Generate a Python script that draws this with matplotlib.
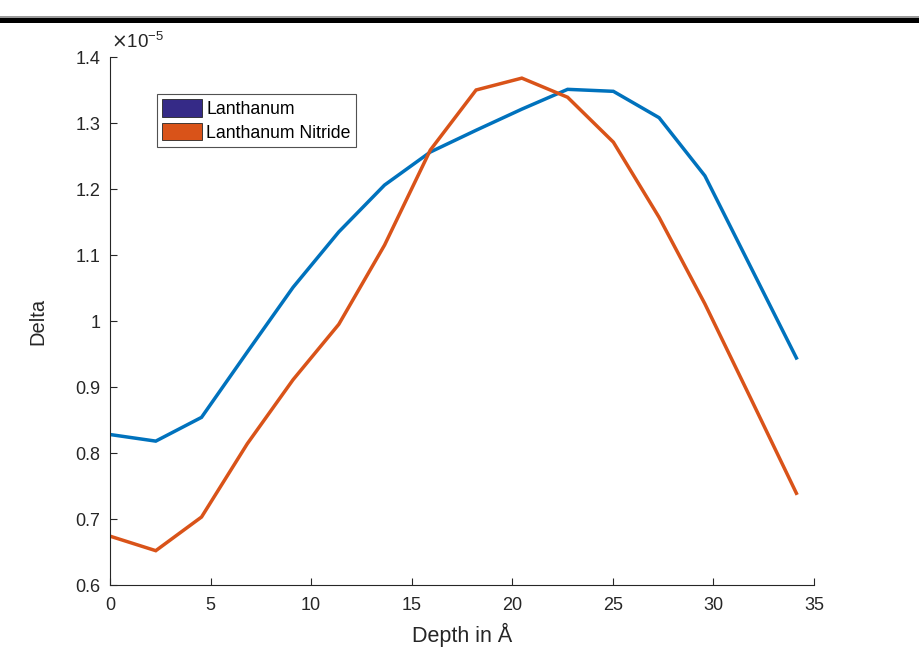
import matplotlib.pyplot as plt
from matplotlib.ticker import FuncFormatter
from matplotlib.patches import Patch, Rectangle
import numpy as np

# depth grid (Angstrom) and delta values in units of 1e-5
depth = [0, 2.275, 4.55, 6.825, 9.1, 11.375, 13.65, 15.925, 18.2, 20.475,
         22.75, 25.025, 27.3, 29.575, 31.85, 34.125]
delta_la = [0.828, 0.818, 0.854, 0.953, 1.051, 1.135, 1.206, 1.256, 1.289, 1.321,
            1.351, 1.348, 1.308, 1.220, 1.082, 0.944]
delta_lan = [0.674, 0.652, 0.703, 0.814, 0.911, 0.995, 1.115, 1.259, 1.350, 1.368,
             1.339, 1.271, 1.157, 1.026, 0.883, 0.739]
labels = ['Lanthanum', 'Lanthanum Nitride']

plt.rcParams['font.family'] = ['Liberation Sans', 'DejaVu Sans']
txt = '#262626'

fig = plt.figure(figsize=(9.19, 6.49), dpi=100)
ax = fig.add_axes([110/919, 1-585/649, 704/919, 528/649])

ax.plot(depth, delta_la, color='#0072BD', lw=2.5, solid_joinstyle='miter')
ax.plot(depth, delta_lan, color='#D95319', lw=2.5, solid_joinstyle='miter')

ax.set_xlim(0, 35)
ax.set_ylim(0.6, 1.4)
ax.set_xticks(range(0, 36, 5))
ax.set_yticks(np.arange(0.6, 1.41, 0.1))
ax.yaxis.set_major_formatter(FuncFormatter(lambda v, p: '%g' % round(v, 2)))

for s in ('top', 'right'):
    ax.spines[s].set_visible(False)
for s in ('left', 'bottom'):
    ax.spines[s].set_color('#262626')
    ax.spines[s].set_linewidth(0.8)
ax.tick_params(direction='in', length=5, width=0.8, colors='#262626',
               labelsize=13, labelcolor=txt)
ax.tick_params(axis='x', pad=9)
ax.tick_params(axis='y', pad=7)

ax.set_xlabel('Depth in Å', fontsize=15.5, color=txt, labelpad=6)
ax.set_ylabel('Delta', fontsize=14.5, color=txt, labelpad=20)
ax.text(0.002, 1.01, r'$\times$10$^{\mathregular{-5}}$', transform=ax.transAxes,
        fontsize=13.5, color=txt, ha='left', va='bottom')

handles = [Patch(facecolor='#352A87', edgecolor='#262626', lw=0.6),
           Patch(facecolor='#D95319', edgecolor='#262626', lw=0.6)]
leg = ax.legend(handles, labels, loc='upper left', bbox_to_anchor=(0.067, 0.93),
                fontsize=12.7, frameon=True, fancybox=False, borderpad=0.3,
                handlelength=2.25, handleheight=1.15, handletextpad=0.22,
                labelspacing=0.28, borderaxespad=0)
leg.get_frame().set_edgecolor('#262626')
leg.get_frame().set_linewidth(0.8)

# black band across the top
fig.add_artist(Rectangle((0, 1-23/649), 1, 5/649, transform=fig.transFigure,
                         facecolor='black', edgecolor='none'))
fig.add_artist(Rectangle((0, 1-18/649), 1, 1.5/649, transform=fig.transFigure,
                         facecolor='#9a9a9a', edgecolor='none'))

fig.savefig('out.png', dpi=100)
